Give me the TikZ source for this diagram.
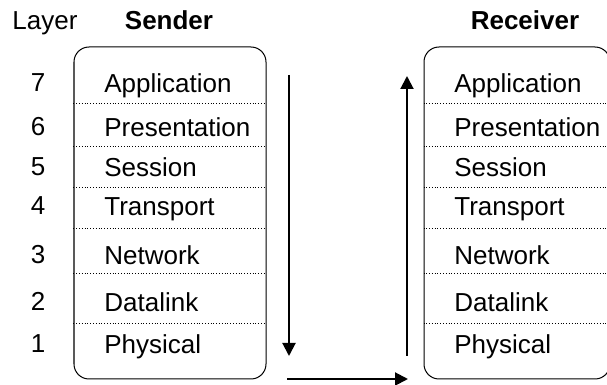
\documentclass[tikz,border=0pt]{standalone}
\usepackage{fontspec}
\setmainfont{Liberation Sans}
\usetikzlibrary{arrows.meta}

\begin{document}
\begin{tikzpicture}[x=0.5pt,y=-0.5pt,
  stack/.style={draw,line width=0.5pt,rounded corners=7.5pt,minimum height=166pt,inner sep=0pt},
  layer/.style={anchor=base west,font=\fontsize{13}{15}\selectfont,inner sep=0pt},
  num/.style={anchor=base,font=\fontsize{13}{15}\selectfont,inner sep=0pt},
  head/.style={anchor=base,font=\fontsize{13}{15}\selectfont\bfseries,inner sep=0pt},
  sep/.style={densely dotted,line width=0.4pt},
  flow/.style={line width=1pt,-{Triangle[length=6.5pt,width=6.5pt]}}]
\useasboundingbox (0,0) rectangle (607,385);

% the two stacks
\node[stack,minimum width=96pt] (sender) at (170,213) {};
\node[stack,minimum width=93pt] (receiver) at (517,213) {};

\node[num] (layer) at (45,30) {Layer};
\node[head] (sendhead) at (169,30) {Sender};
\node[head] (recvhead) at (525,30) {Receiver};

% layer names and numbers
\foreach \n/\name/\y in {7/Application/93,6/Presentation/137,5/Session/177,
    4/Transport/216,3/Network/265,2/Datalink/312,1/Physical/354}{
  \node[num] (n\n) at (38,\y-1) {\n};
  \node[layer] (s\n) at (104,\y) {\name};
  \node[layer] (r\n) at (454,\y) {\name};
}

% dotted separators
\foreach \y in {103,146,187,228,273,323}{
  \draw[sep] (sender.west |- 0,\y) -- (sender.east |- 0,\y);
  \draw[sep] (receiver.west |- 0,\y) -- (receiver.east |- 0,\y);
}

% flow of data
\coordinate (downtop) at (289,75);
\coordinate (downbot) at (289,356);
\coordinate (wirea) at (287,379);
\coordinate (wireb) at (408,379);
\coordinate (upbot) at (407,356);
\coordinate (uptop) at (407,76);
\draw[flow] (downtop) -- (downbot);
\draw[flow] (wirea) -- (wireb);
\draw[flow] (upbot) -- (uptop);
\end{tikzpicture}
\end{document}
